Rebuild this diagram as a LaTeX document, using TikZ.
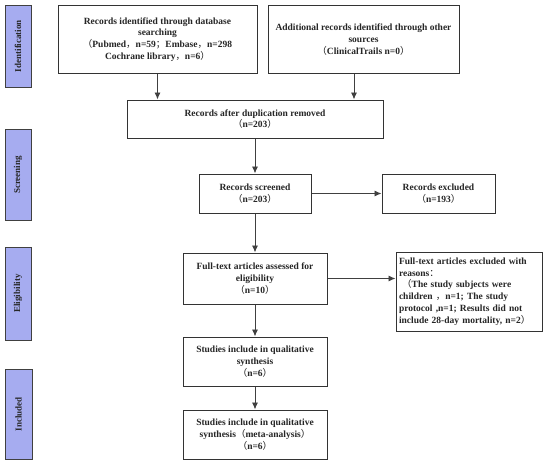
\documentclass[tikz,border=0pt]{standalone}
\usepackage{fontspec}
\setmainfont{Liberation Serif}
\newfontfamily\cjk{Noto Sans CJK SC}
\usetikzlibrary{arrows.meta,calc}
\newcommand{\fp}[1]{{\cjk\mdseries #1}}
\begin{document}
\begin{tikzpicture}[x=1pt,y=-1pt,
  box/.style={draw=black!80,line width=1pt,fill=white,align=center,inner sep=2pt,font=\bfseries\fontsize{9.5}{11.7}\selectfont,text=black!85},
  side/.style={draw=black!75,line width=1pt,fill={rgb,255:red,166;green,172;blue,240}},
  sidetext/.style={rotate=90,font=\bfseries\fontsize{9}{10}\selectfont,text=black!85},
  arr/.style={draw=black!75,line width=0.9pt,-{Latex[length=7pt,width=6pt]}}]
\useasboundingbox (0,0) rectangle (550,464);
% side bars
\node[side,minimum width=26pt,minimum height=82pt] (s1) at (18,46) {};
\node[sidetext] (t1) at (s1.center) {Identification};
\node[side,minimum width=26pt,minimum height=91pt] (s2) at (18,175) {};
\node[sidetext] (t2) at (s2.center) {Screening};
\node[side,minimum width=26pt,minimum height=93pt] (s3) at (18,293.5) {};
\node[sidetext] (t3) at (s3.center) {Eligibility};
\node[side,minimum width=27pt,minimum height=90pt] (s4) at (18.5,414) {};
\node[sidetext] (t4) at (s4.center) {Included};
% boxes
\node[box,minimum width=199pt,minimum height=68pt] (b1) at (157.5,39.5) {Records identified through database\\searching\\\fp{（}Pubmed\fp{，}n=59\fp{；}Embase\fp{，}n=298\\Cochrane library\fp{，}n=6\fp{）}};
\node[box,minimum width=191pt,minimum height=68pt] (b2) at (363.5,39.5) {Additional records identified through other\\sources\\\fp{（}ClinicalTrails n=0\fp{）}};
\node[box,minimum width=256pt,minimum height=38pt] (b3) at (255,119) {Records after duplication removed\\\fp{（}n=203\fp{）}};
\node[box,minimum width=112pt,minimum height=39pt] (b4) at (255,193.5) {Records screened\\\fp{（}n=203\fp{）}};
\node[box,minimum width=113pt,minimum height=39pt] (b5) at (438.5,193.5) {Records excluded\\\fp{（}n=193\fp{）}};
\node[box,minimum width=144pt,minimum height=51pt] (b6) at (255,278.5) {Full-text articles assessed for\\eligibility\\\fp{（}n=10\fp{）}};
\node[box,minimum width=146pt,minimum height=79pt,align=left,text width=140pt] (b7) at (469,291.5) {Full-text articles excluded with\\reasons\fp{：}\\\ \fp{（}The study subjects were\\children \fp{，}n=1; The study\\protocol ,n=1; Results did not\\include 28-day mortality, n=2\fp{）}};
\node[box,minimum width=144pt,minimum height=49pt] (b8) at (255,361.5) {Studies include in qualitative\\synthesis\\\fp{（}n=6\fp{）}};
\node[box,minimum width=144pt,minimum height=49pt] (b9) at (255,434.5) {Studies include in qualitative\\synthesis\fp{（}meta-analysis\fp{）}\\\fp{（}n=6\fp{）}};
% arrows
\draw[arr] (b1.south) -- (b1.south |- b3.north);
\draw[arr] ([xshift=-9.5pt]b2.south) -- ([xshift=-9.5pt]b2.south |- b3.north);
\draw[arr] (b3.south) -- (b4.north);
\draw[arr] (b4.east) -- (b5.west);
\draw[arr] (b4.south) -- (b6.north);
\draw[arr] (b6.east) -- (b6.east -| b7.west);
\draw[arr] (b6.south) -- (b8.north);
\draw[arr] (b8.south) -- (b9.north);
\end{tikzpicture}
\end{document}
